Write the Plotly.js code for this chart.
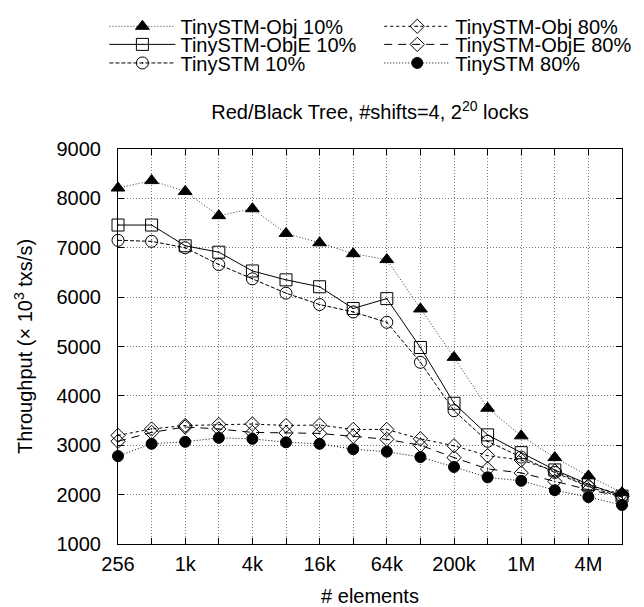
<!DOCTYPE html>
<html>
<head>
<meta charset="utf-8">
<script src="https://cdn.plot.ly/plotly-3.0.1.min.js"></script>
<style>html,body{margin:0;padding:0;background:#fff;}#chart{width:644px;height:607px;}</style>
</head>
<body>
<div id="chart"></div>
<script>
// number of elements (one point per power of two)
var elements = ['256','512','1k','2k','4k','8k','16k','32k','64k','128k','256k','512k','1M','2M','4M','8M'];
var tickLabels = ['256','','1k','','4k','','16k','','64k','','200k','','1M','','4M',''];

// throughput (x 10^3 txs/s)
var objUpd10   = [8210, 8360, 8140, 7650, 7790, 7290, 7100, 6880, 6760, 5760, 4780, 3750, 3190, 2750, 2380, 2040];
var objEUpd10  = [7460, 7460, 7040, 6910, 6530, 6350, 6210, 5770, 5970, 4980, 3850, 3210, 2850, 2500, 2210, 1970];
var stmUpd10   = [7150, 7130, 7000, 6660, 6370, 6080, 5850, 5700, 5490, 4680, 3700, 3080, 2760, 2450, 2160, 1950];
var objUpd80   = [3200, 3330, 3400, 3420, 3430, 3400, 3410, 3320, 3320, 3130, 2990, 2790, 2700, 2480, 2180, 2010];
var objEUpd80  = [3080, 3260, 3370, 3330, 3260, 3250, 3240, 3180, 3120, 3000, 2750, 2520, 2440, 2270, 2100, 1960];
var stmUpd80   = [2780, 3030, 3070, 3150, 3130, 3060, 3030, 2920, 2870, 2760, 2560, 2350, 2280, 2090, 1950, 1790];

var seriesNames = ['TinySTM-Obj 10%','TinySTM-ObjE 10%','TinySTM 10%','TinySTM-Obj 80%','TinySTM-ObjE 80%','TinySTM 80%'];

function tr(name, y, dash, lineColor, symbol, size, legendId) {
  return {
    type: 'scatter', mode: 'lines+markers', name: name, x: elements, y: y,
    cliponaxis: false, legend: legendId,
    line: {color: lineColor, width: 1, dash: dash},
    marker: {symbol: symbol, size: size, color: '#000', line: {color: '#000', width: 1}}
  };
}

var data = [
  tr(seriesNames[0], objUpd10, '1px,2px', '#333', 'triangle-up', 12, 'legend'),
  tr(seriesNames[1], objEUpd10, 'solid', '#000', 'square-open-dot', 12, 'legend2'),
  tr(seriesNames[2], stmUpd10, '4px,2px', '#000', 'circle-open-dot', 12, 'legend3'),
  tr(seriesNames[3], objUpd80, '3px,3px', '#000', 'diamond-open-dot', 11, 'legend4'),
  tr(seriesNames[4], objEUpd80, '8px,6px', '#000', 'diamond-open-dot', 11, 'legend5'),
  tr(seriesNames[5], stmUpd80, '1px,2px', '#000', 'circle', 11, 'legend6')
];

var font = {family: '"Liberation Sans", Arial, sans-serif', size: 20, color: '#000'};

// legend placement (pixel positions converted to paper units of the plot area)
var plotL = 118, plotW = 519, plotT = 140, plotH = 404;
function lg(px, py) {
  return {
    x: (px - plotL) / plotW, xanchor: 'left',
    y: 1 + (plotT - py) / plotH, yanchor: 'middle',
    font: font, bgcolor: 'rgba(0,0,0,0)', itemwidth: 66, borderwidth: 0
  };
}

var layout = {
  width: 644, height: 607,
  margin: {l: 118, r: 7, t: 140, b: 63},
  paper_bgcolor: '#fff', plot_bgcolor: '#fff',
  font: font,
  showlegend: true,
  legend: lg(104, 14.5),
  legend2: lg(104, 33),
  legend3: lg(104, 52),
  legend4: lg(387, 14.5),
  legend5: lg(387, 33),
  legend6: lg(387, 52),
  title: {
    text: 'Red/Black Tree, #shifts=4, 2<sup>20</sup> locks',
    font: font, x: 0.5, xref: 'paper', xanchor: 'center', y: 1 - 112/607, yanchor: 'middle'
  },
  xaxis: {
    type: 'category', range: [0, 15],
    tickmode: 'array', tickvals: elements, ticktext: tickLabels,
    showgrid: true, gridcolor: '#777', griddash: '1px,2px', gridwidth: 1,
    showline: true, linecolor: '#000', linewidth: 1, mirror: 'allticks',
    ticks: 'inside', ticklen: 6, tickcolor: '#000', ticklabelstandoff: 2,
    tickfont: font, zeroline: false,
    title: {text: '# elements', font: font, standoff: 14}
  },
  yaxis: {
    range: [1000, 9000], dtick: 1000, tick0: 1000,
    showgrid: true, gridcolor: '#777', griddash: '1px,2px', gridwidth: 1,
    showline: true, linecolor: '#000', linewidth: 1, mirror: 'allticks',
    ticks: 'inside', ticklen: 6, tickcolor: '#000', ticklabelstandoff: 12,
    tickfont: font, zeroline: false,
    title: {text: 'Throughput (× 10<sup>3</sup> txs/s)', font: font, standoff: 18}
  }
};

Plotly.newPlot('chart', data, layout, {displayModeBar: false, staticPlot: true});
</script>
</body>
</html>
